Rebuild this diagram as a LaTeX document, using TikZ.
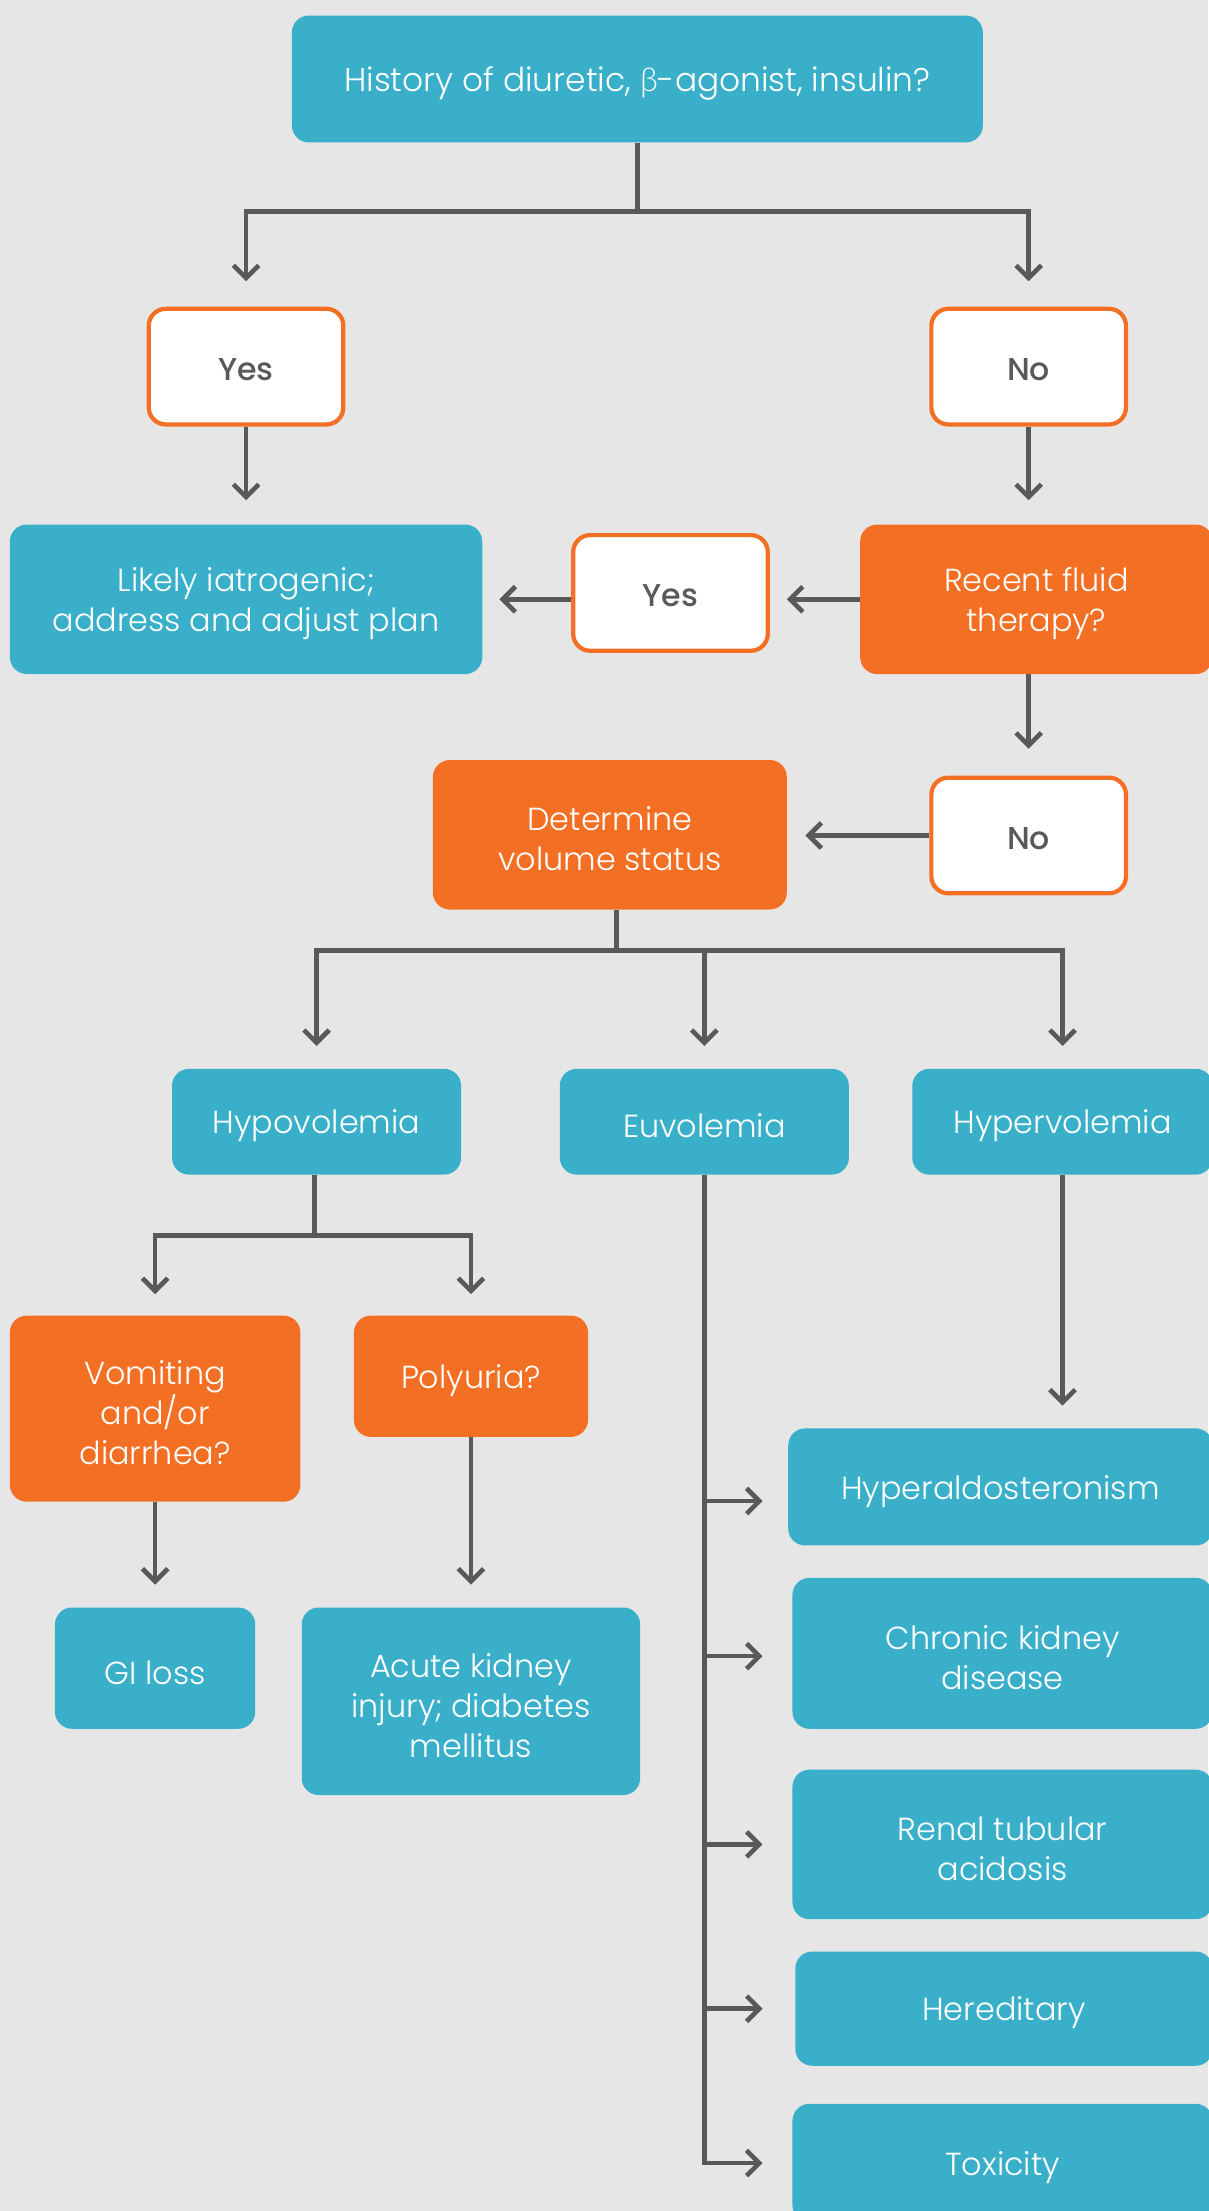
\documentclass[tikz,border=0pt]{standalone}
\usepackage{fontspec}
\usetikzlibrary{arrows.meta,calc}
\IfFontExistsTF{Poppins Light}{\setmainfont{Poppins Light}}{\setmainfont{Poppins}}
\IfFontExistsTF{Poppins Medium}{\newfontfamily\ansfont{Poppins Medium}}{\newfontfamily\ansfont{Poppins}}
\IfFontExistsTF{Lato Light}{\newfontfamily\greekfont{Lato Light}}{\newfontfamily\greekfont{Lato}}
\definecolor{bg}{HTML}{E6E6E6}
\definecolor{teal}{HTML}{39AFC9}
\definecolor{orng}{HTML}{F36F23}
\definecolor{ink}{HTML}{58595B}
\newcommand\mainsize{\fontsize{22.6}{28.5}\selectfont}
\newcommand\topsize{\fontsize{23.3}{28.5}\selectfont}
\newcommand\anssize{\fontsize{22.4}{26}\selectfont}
\begin{document}
\begin{tikzpicture}[x=1pt,y=-1pt,
  lbl/.style={align=center, inner sep=0pt, text=white, font=\mainsize, yshift=-3pt},
  txt/.style={label={[lbl]center:{#1}}},
  anslbl/.style={inner sep=0pt, text=ink, font=\ansfont\anssize, yshift=-2pt},
  box/.style={rectangle, rounded corners=12pt, inner sep=0pt},
  tealbox/.style={box, fill=teal},
  orbox/.style={box, fill=orng},
  ansbox/.style={box, fill=white, draw=orng, line width=3pt,
                 minimum width=138pt, minimum height=82pt, label={[anslbl]center:{#1}}},
  conn/.style={draw=ink, line width=3.3pt},
  arr/.style={conn, -{Straight Barb[length=9pt,width=18pt]}},
]
% canvas
\fill[bg] (0,0) rectangle (857,1568);
\useasboundingbox (0,0) rectangle (857,1568);

% first question and its answers
\node[tealbox, minimum width=490pt, minimum height=90pt,
  txt={\topsize History of diuretic, {\greekfont β}-agonist, insulin?}] (top) at (452,56) {};
\node[ansbox=Yes] (yesL) at (174.5,260) {};
\node[ansbox=No] (noR) at (729.5,260) {};

% iatrogenic branch and fluid therapy question
\node[tealbox, minimum width=335pt, minimum height=106pt,
  txt={Likely iatrogenic;\\address and adjust plan}] (likely) at (174.5,425) {};
\node[orbox, minimum width=250pt, minimum height=106pt,
  txt={Recent fluid\\therapy?}] (recent) at (735,425) {};
\node[ansbox=Yes] (yesM) at (475.5,420.5) {};
\node[ansbox=No] (noL) at (729.5,592.5) {};
\node[orbox, minimum width=251pt, minimum height=106pt,
  txt={Determine\\volume status}] (determine) at (432.5,592) {};

% volume status
\node[tealbox, minimum width=205pt, minimum height=75pt, txt={Hypovolemia}] (hypo) at (224.5,795.5) {};
\node[tealbox, minimum width=205pt, minimum height=75pt, txt={Euvolemia}] (eu) at (499.5,795.5) {};
\node[tealbox, minimum width=213pt, minimum height=75pt, txt={Hypervolemia}] (hyper) at (753.5,795.5) {};

% hypovolemia work-up
\node[orbox, minimum width=206pt, minimum height=132pt,
  txt={Vomiting\\and/or\\diarrhea?}] (vomit) at (110,999) {};
\node[orbox, minimum width=166pt, minimum height=86pt, txt={Polyuria?}] (poly) at (334,976) {};
\node[tealbox, minimum width=142pt, minimum height=86pt, txt={GI loss}] (gi) at (110,1183) {};
\node[tealbox, minimum width=240pt, minimum height=133pt,
  txt={Acute kidney\\injury; diabetes\\mellitus}] (aki) at (334,1206.5) {};

% causes
\node[tealbox, minimum width=301pt, minimum height=83pt, txt={Hyperaldosteronism}] (hald) at (709.5,1054.5) {};
\node[tealbox, minimum width=298pt, minimum height=107pt, txt={Chronic kidney\\disease}] (ckd) at (711,1172.5) {};
\node[tealbox, minimum width=298pt, minimum height=106pt, txt={Renal tubular\\acidosis}] (rta) at (711,1308) {};
\node[tealbox, minimum width=296pt, minimum height=81pt, txt={Hereditary}] (hered) at (712,1424.5) {};
\node[tealbox, minimum width=298pt, minimum height=84pt, txt={Toxicity}] (tox) at (711,1534) {};

% connectors
\coordinate (j1) at ($(top.south)+(0,49)$);
\draw[conn] (top.south) -- (j1);
\draw[arr, shorten >=18pt] (j1) -| (yesL);
\draw[arr, shorten >=18pt] (j1) -| (noR);
\draw[arr, shorten >=17pt] (yesL) -- (likely);
\draw[arr, shorten >=17pt] (noR.south) -- (noR.south |- recent.north);
\draw[arr, shorten >=12pt] (recent.west) -- (recent.west -| yesM.east);
\draw[arr, shorten >=12pt] (recent.west -| yesM.west) -- (recent.west -| likely.east);
\draw[arr, shorten >=19pt] (noL.north |- recent.south) -- (noL.north);
\draw[arr, shorten >=13pt] (noL.west) -- (noL.west -| determine.east);

\coordinate (j2) at ($(determine.south)+(4.5,29)$);
\draw[conn] (determine.south -| j2) -- (j2);
\draw[arr, shorten >=16pt] (j2) -| (hypo);
\draw[arr, shorten >=16pt] (j2) -| (eu);
\draw[arr, shorten >=16pt] (j2) -| (hyper);

\coordinate (j3) at ($(hypo.south)+(-1.5,43)$);
\draw[conn] (hypo.south -| j3) -- (j3);
\draw[arr, shorten >=15pt] (j3) -| (vomit);
\draw[arr, shorten >=15pt] (j3) -| (poly);
\draw[arr, shorten >=16pt] (vomit) -- (gi);
\draw[arr, shorten >=16pt] (poly) -- (aki);

\draw[arr, shorten >=16pt] (hyper.south) -- (hyper.south |- hald.north);

\draw[arr, shorten >=21pt] (eu.south) |- (tox.west);
\draw[arr, shorten >=18pt] ([yshift=-10pt]eu.south |- hald.west) -- ([yshift=-10pt]hald.west);
\draw[arr, shorten >=21pt] ([yshift=-2pt]eu.south |- ckd.west) -- ([yshift=-2pt]ckd.west);
\draw[arr, shorten >=21pt] (eu.south |- rta.west) -- (rta.west);
\draw[arr, shorten >=23pt] (eu.south |- hered.west) -- (hered.west);
\end{tikzpicture}
\end{document}
